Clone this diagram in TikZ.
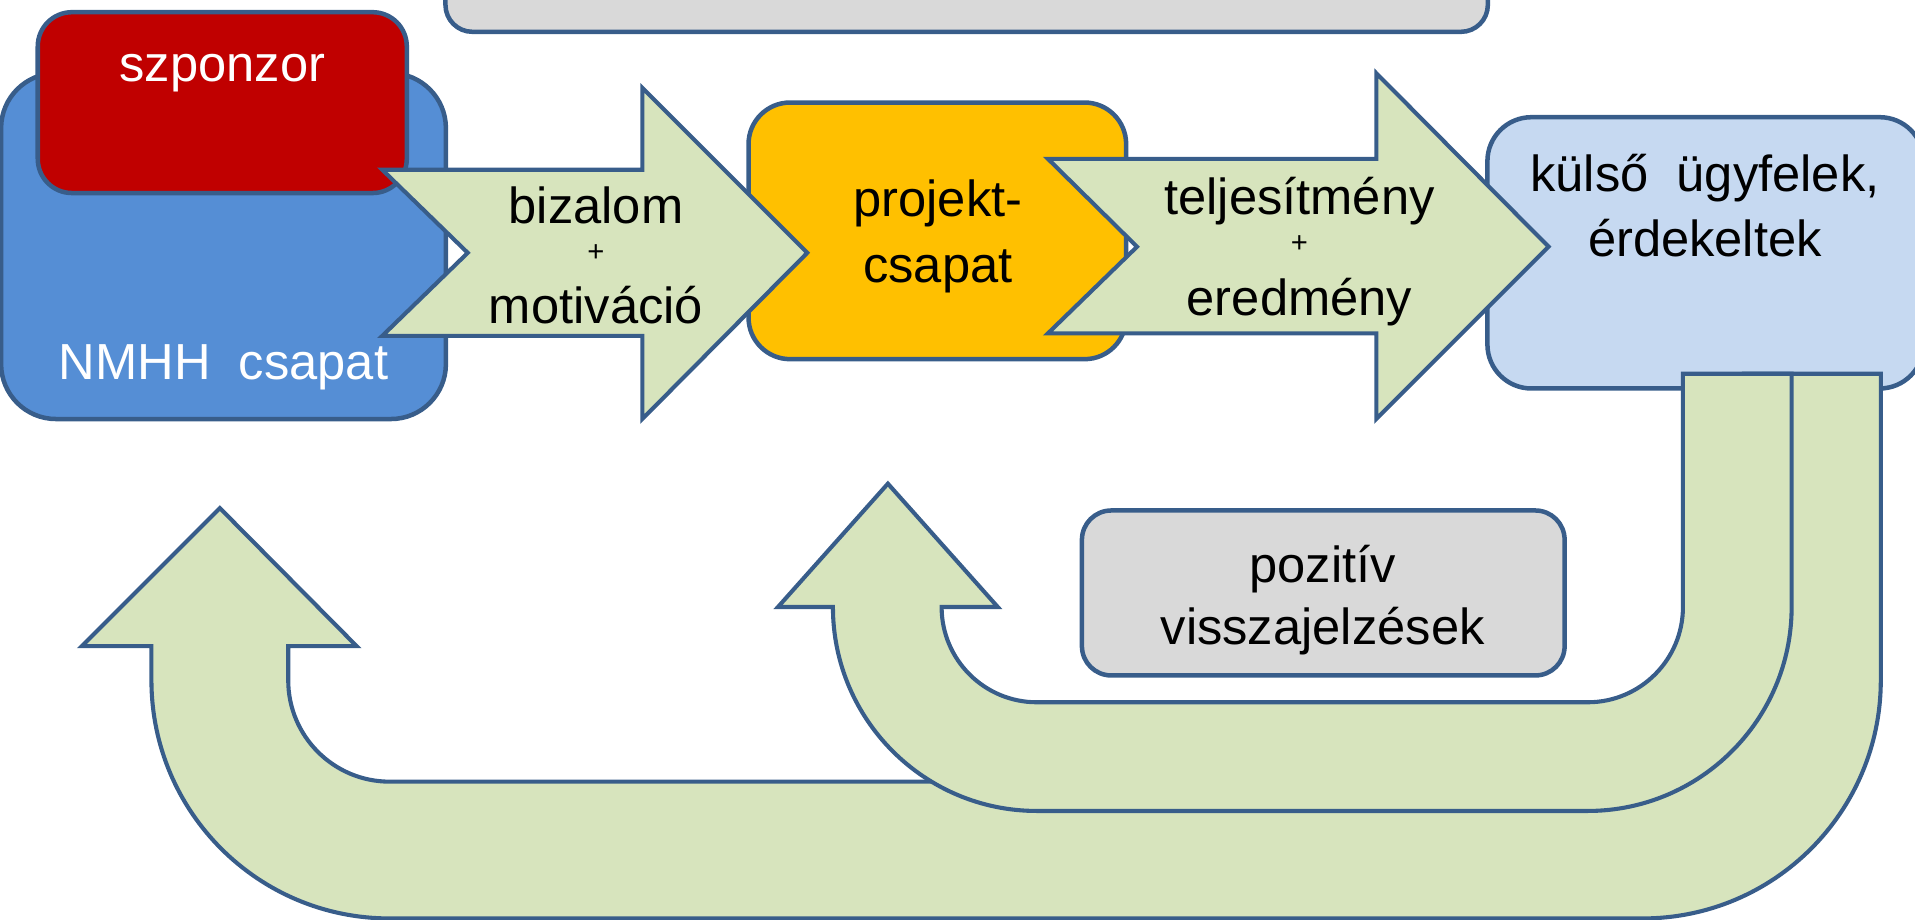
\documentclass[tikz,border=0pt]{standalone}
\usepackage{fontspec}
\setmainfont{Liberation Sans}
\definecolor{bord}{HTML}{385D8A}
\definecolor{nmhhblue}{HTML}{558ED5}
\definecolor{sponred}{HTML}{C00000}
\definecolor{projyel}{HTML}{FFC000}
\definecolor{extblue}{HTML}{C6D9F1}
\definecolor{arrgreen}{HTML}{D7E4BD}
\definecolor{boxgray}{HTML}{D9D9D9}
\begin{document}
\begin{tikzpicture}[x=0.01cm,y=-0.01cm,
  box/.style={draw=bord, line width=1.05pt, inner sep=0pt, outer sep=0pt, rectangle},
  blockarrow/.style={draw=bord, line width=0.95pt, fill=arrgreen, line join=miter},
  txt/.style={font=\fontsize{11.8}{14}\selectfont, inner sep=0pt, anchor=base},
  plus/.style={font=\fontsize{6.8}{8}\selectfont, inner sep=0pt, anchor=base}]
\useasboundingbox (0,0) rectangle (1568,753);
\clip (0,0) rectangle (1568,753);

% top gray box (cut by the page edge)
\node[box, fill=boxgray, minimum width=8.53cm, minimum height=1.26cm, rounded corners=0.22cm] (topbox) at (791.5,-37) {};

% NMHH team box with sponsor box
\node[box, fill=nmhhblue, minimum width=3.64cm, minimum height=2.83cm, rounded corners=0.45cm] (nmhh) at (183,201.5) {};
\node[box, fill=sponred, minimum width=3.02cm, minimum height=1.48cm, rounded corners=0.28cm] (sponsor) at (182,84) {};
\node[txt, text=white] (sponsortxt) at (182,67) {szponzor};
\node[txt, text=white] (nmhhtxt) at (183,311) {NMHH\ \ csapat};

% project team box
\node[box, fill=projyel, minimum width=3.09cm, minimum height=2.10cm, rounded corners=0.34cm] (proj) at (767.5,189) {};
\node[txt] (projtxt1) at (768,177) {projekt-};
\node[txt] (projtxt2) at (768,231) {csapat};

% external stakeholders box
\node[box, fill=extblue, minimum width=3.57cm, minimum height=2.22cm, rounded corners=0.36cm] (ext) at (1396.5,207) {};
\node[txt] (exttxt1) at (1396,157) {külső\ \ ügyfelek,};
\node[txt] (exttxt2) at (1396,210) {érdekeltek};

% arrow 1: bizalom + motiváció
\draw[blockarrow] (313,139) -- (526,139) -- (526,72) -- (661,207) -- (526,343) -- (526,275) -- (313,275) -- (383,207) -- cycle;
\node[txt] (a1t1) at (488,183) {bizalom};
\node[plus] (a1t2) at (488,214) {+};
\node[txt] (a1t3) at (488,265) {motiváció};

% arrow 2: teljesítmény + eredmény
\draw[blockarrow] (858,130) -- (1127,130) -- (1127,60) -- (1268,202) -- (1127,343) -- (1127,273) -- (858,273) -- (931,202) -- cycle;
\node[txt] (a2t1) at (1064,176) {teljesítmény};
\node[plus] (a2t2) at (1064,207) {+};
\node[txt] (a2t3) at (1064,258) {eredmény};

% big U-turn arrow back to NMHH team
\draw[blockarrow] (1428,306) -- (1540,306) -- (1540,557)
  .. controls (1540,664.7) and (1452.7,752) .. (1345,752) -- (319,752)
  .. controls (211.3,752) and (124,664.7) .. (124,557) -- (124,529) -- (67,529) -- (180,416) -- (292,529) -- (236,529) -- (236,557)
  .. controls (236,602.8) and (273.2,640) .. (319,640) -- (1345,640)
  .. controls (1390.8,640) and (1428,602.8) .. (1428,557) -- cycle;

% small U-turn arrow back to project team
\draw[blockarrow] (1378,306) -- (1467,306) -- (1467,497)
  .. controls (1467,589.2) and (1392.2,664) .. (1300,664) -- (849,664)
  .. controls (756.8,664) and (682,589.2) .. (682,497) -- (637,497) -- (727,396) -- (817,497) -- (771,497)
  .. controls (771,540.1) and (805.9,575) .. (849,575) -- (1300,575)
  .. controls (1343.1,575) and (1378,540.1) .. (1378,497) -- cycle;

% positive feedback box
\node[box, fill=boxgray, minimum width=3.95cm, minimum height=1.35cm, rounded corners=0.24cm] (feedback) at (1083.5,485.5) {};
\node[txt] (fbt1) at (1083,477) {pozitív};
\node[txt] (fbt2) at (1083,528) {visszajelzések};
\end{tikzpicture}
\end{document}
